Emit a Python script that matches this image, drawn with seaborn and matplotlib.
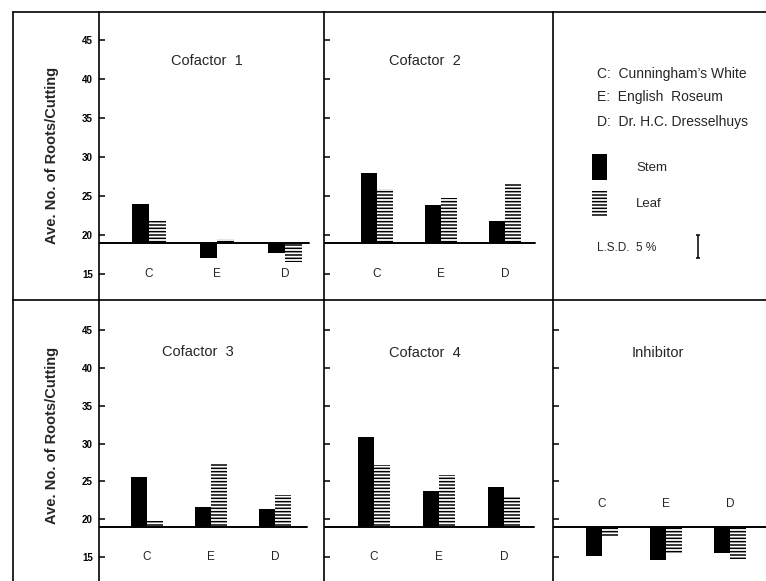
import matplotlib
matplotlib.use("Agg")
import matplotlib.pyplot as plt
import seaborn as sns
import pandas as pd
from matplotlib.lines import Line2D
from matplotlib.patches import Patch

# ---------------- data ----------------
categories = ["C", "E", "D"]
parts = ["Stem", "Leaf"]
BASE = 19.0          # control level (baseline)
LSD = 2.9            # L.S.D. 5 %

cof1_stem = [24.0, 17.0, 17.7]
cof1_leaf = [21.8, 19.5, 16.6]
cof2_stem = [28.0, 23.9, 21.8]
cof2_leaf = [25.9, 24.8, 26.7]
cof3_stem = [25.6, 21.6, 21.3]
cof3_leaf = [19.7, 27.4, 23.2]
cof4_stem = [30.8, 23.7, 24.3]
cof4_leaf = [27.2, 25.8, 22.9]
inh_stem = [15.1, 14.6, 15.5]
inh_leaf = [17.7, 15.4, 14.7]

titles = ["Cofactor  1", "Cofactor  2", "Cofactor  3", "Cofactor  4", "Inhibitor"]
yticks = [15, 20, 25, 30, 35, 40, 45]
ylabel = "Ave. No. of Roots/Cutting"
legend_lines = ["C:  Cunningham\u2019s White", "E:  English  Roseum", "D:  Dr. H.C. Dresselhuys"]

# ---------------- style ----------------
sns.set_style("white")
plt.rcParams["font.family"] = ["Liberation Sans", "DejaVu Sans"]
plt.rcParams["hatch.linewidth"] = 1.1
plt.rcParams["hatch.color"] = "black"

W, H = 766, 581
fig = plt.figure(figsize=(W / 100, H / 100), dpi=100)
fig.patch.set_facecolor("white")


def rect(l, t, r, b):
    return [l / W, 1 - b / H, (r - l) / W, (b - t) / H]


cols = [(99, 324), (324, 553), (553, 766)]
rows = [(12, 300), (300, 581)]
ylims = [(11.67, 48.59), (11.84, 48.96)]

# layout per panel: (row, col, C-centre offset px, px per category, title x frac, title y frac,
#                    baseline end frac, label value)
layout = [
    (0, 0, 50, 68, 0.48, 0.83, 0.933, 15.0),
    (0, 1, 53, 64, 0.44, 0.83, 0.921, 15.0),
    (1, 0, 48, 64, 0.44, 0.815, 0.924, 15.0),
    (1, 1, 50, 65, 0.44, 0.81, 0.917, 15.0),
    (1, 2, 49, 64, 0.49, 0.81, 1.0, 22.0),
]
data = [
    (cof1_stem, cof1_leaf),
    (cof2_stem, cof2_leaf),
    (cof3_stem, cof3_leaf),
    (cof4_stem, cof4_leaf),
    (inh_stem, inh_leaf),
]

for (r, c, off, unit, tx, ty, bend, laby), (stem, leaf), title in zip(layout, data, titles):
    l, rr = cols[c]
    t, b = rows[r]
    ax = fig.add_axes(rect(l, t, rr, b))
    df = pd.DataFrame({
        "cat": categories * 2,
        "part": [parts[0]] * 3 + [parts[1]] * 3,
        "value": stem + leaf,
    })
    df["height"] = df["value"] - BASE
    sns.barplot(data=df, x="cat", y="height", hue="part", order=categories,
                hue_order=parts, palette={"Stem": "black", "Leaf": "white"},
                width=0.5, errorbar=None, legend=False, saturation=1,
                bottom=BASE, ax=ax)
    for cont, hp in zip(ax.containers, parts):
        for p in cont.patches:
            p.set_linewidth(0)
            if hp == "Leaf":
                p.set_facecolor("white")
                p.set_edgecolor("black")
                p.set_hatch("-----")
            else:
                p.set_facecolor("black")
                p.set_edgecolor("black")
    width_px = rr - l
    ax.set_xlim(-off / unit, (width_px - off) / unit)
    ax.set_ylim(*ylims[r])
    ax.axhline(BASE, xmin=0, xmax=bend, color="black", lw=1.4, zorder=3)
    for i, cat in enumerate(categories):
        ax.text(i, laby, cat, ha="center", va="center", fontsize=8.5)
    ax.text(tx, ty, title, transform=ax.transAxes, ha="center", va="center", fontsize=10.5)
    ax.set_yticks(yticks)
    ax.tick_params(axis="y", direction="in", length=4.5, width=1.1, left=True,
                   labelleft=(c == 0), labelsize=7, pad=4.5, colors="black")
    for lab in ax.get_yticklabels():
        lab.set_fontweight("bold")
    ax.tick_params(axis="x", bottom=False, labelbottom=False)
    ax.set_xlabel("")
    ax.set_ylabel("")
    for s in ["top", "right", "bottom"]:
        ax.spines[s].set_visible(False)
    ax.spines["left"].set_color("black")
    ax.spines["left"].set_linewidth(1.2)
    ax.set_facecolor("none")

# ---------------- legend panel ----------------
axl = fig.add_axes(rect(553, 12, 766, 300))
axl.set_xlim(0, 1)
axl.set_ylim(*ylims[0])
axl.set_xticks([])
axl.set_yticks([])
for s in ["top", "right", "bottom"]:
    axl.spines[s].set_visible(False)
axl.spines["left"].set_color("black")
axl.spines["left"].set_linewidth(1.2)
axl.set_facecolor("none")
for txt, yf in zip(legend_lines, [0.785, 0.705, 0.618]):
    axl.text(0.207, yf, txt, transform=axl.transAxes, ha="left", va="center", fontsize=10)
handles = [Patch(facecolor="black", edgecolor="black", linewidth=0),
           Patch(facecolor="white", edgecolor="black", hatch="-----", linewidth=0)]
axl.legend(handles, parts, loc="upper left", bbox_to_anchor=(0.183, 0.507),
           frameon=False, fontsize=9.5, handlelength=1.15, handleheight=2.6,
           handletextpad=2.2, labelspacing=0.85, borderpad=0, borderaxespad=0)
axl.text(0.207, 0.18, "L.S.D.  5 %", transform=axl.transAxes, ha="left", va="center", fontsize=8.5)
axl.errorbar([0.68], [18.5], yerr=[LSD / 2], color="black", elinewidth=1.1,
             capsize=1.6, capthick=1.1, fmt="none")

# y labels
for (t, b), yc in zip(rows, [155, 435]):
    fig.text(52 / W, 1 - yc / H, ylabel, rotation=90, ha="center",
             va="center", fontsize=10.5, fontweight="bold")

# frame lines
def fline(x0, y0, x1, y1, lw=1.2):
    fig.add_artist(Line2D([x0 / W, x1 / W], [1 - y0 / H, 1 - y1 / H],
                          transform=fig.transFigure, color="black", lw=lw))

fline(13, 12, 766, 12)
fline(13, 300, 766, 300)
fline(13, 12, 13, 581)

fig.savefig("out.png", dpi=100)
